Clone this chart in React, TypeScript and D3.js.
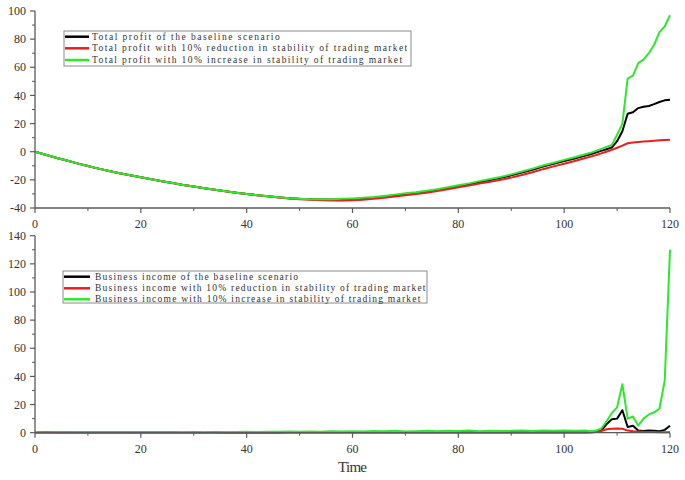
import React from 'react';
import * as d3 from 'd3';

const TIME = [0,2,4,6,8,10,12,14,16,18,20,22,24,26,28,30,32,34,36,38,40,42,44,46,48,50,52,54,56,58,60,62,64,66,68,70,72,74,76,78,80,82,84,86,88,90,92,94,96,98,100,102,104,105,106,107,108,109,110,111,112,113,114,115,116,117,118,119,120];

const PROFIT_BASE = [0,-2.2,-4.3,-6.3,-8.3,-10.2,-12.0,-13.7,-15.3,-16.8,-18.2,-19.6,-21.0,-22.3,-23.6,-24.8,-26.0,-27.1,-28.1,-29.1,-30.0,-30.9,-31.7,-32.4,-33.0,-33.5,-33.8,-34.0,-34.0,-33.9,-33.7,-33.3,-32.7,-31.9,-31.0,-30.1,-29.3,-28.4,-27.2,-25.9,-24.5,-23.2,-21.6,-20.1,-18.6,-16.8,-14.8,-12.8,-10.6,-8.6,-6.7,-4.8,-2.8,-1.8,-0.6,0.6,1.8,3.0,7.5,14.5,27.0,28.0,31.0,32.0,32.5,33.8,35.3,36.5,37.0];

const PROFIT_LOW = [0,-2.2,-4.3,-6.3,-8.3,-10.2,-12.0,-13.7,-15.3,-16.8,-18.2,-19.6,-21.0,-22.3,-23.6,-24.8,-26.0,-27.1,-28.1,-29.1,-30.0,-30.9,-31.7,-32.5,-33.2,-33.8,-34.2,-34.5,-34.6,-34.6,-34.5,-34.1,-33.5,-32.7,-31.8,-30.9,-30.0,-29.2,-28.0,-26.6,-25.3,-24.0,-22.6,-21.3,-20.0,-18.4,-16.6,-14.6,-12.4,-10.4,-8.6,-6.6,-4.5,-3.5,-2.4,-1.2,0.0,1.3,2.8,4.3,6.0,6.6,6.9,7.2,7.5,7.8,8.1,8.3,8.5];

const PROFIT_HIGH = [0,-2.2,-4.3,-6.3,-8.3,-10.2,-12.0,-13.7,-15.3,-16.8,-18.2,-19.6,-21.0,-22.3,-23.6,-24.8,-26.0,-27.1,-28.1,-29.1,-30.0,-30.9,-31.7,-32.4,-33.0,-33.4,-33.7,-33.8,-33.7,-33.5,-33.2,-32.8,-32.2,-31.4,-30.5,-29.6,-28.8,-27.8,-26.6,-25.3,-23.9,-22.5,-20.9,-19.4,-17.9,-16.1,-14.1,-12.0,-9.8,-7.8,-5.8,-3.9,-1.8,-0.8,0.6,2.0,3.4,4.8,12.0,20.0,52.0,54.0,63.0,65.5,70.0,76.0,85.0,89.0,97.0];

const INCOME_BASE = [0,0.1,0.1,0.1,0.2,0.2,0.2,0.2,0.2,0.2,0.2,0.2,0.2,0.2,0.2,0.2,0.2,0.2,0.2,0.2,0.2,0.2,0.2,0.2,0.3,0.3,0.3,0.3,0.3,0.3,0.3,0.3,0.3,0.3,0.3,0.3,0.3,0.3,0.3,0.3,0.3,0.3,0.3,0.3,0.3,0.3,0.3,0.3,0.3,0.3,0.3,0.3,0.3,0.3,0.5,1.5,6.0,9.5,10.0,16.0,4.0,5.0,1.5,1.2,1.5,1.3,1.0,2.0,5.0];

const INCOME_LOW = [0,0.1,0.1,0.1,0.1,0.1,0.1,0.1,0.1,0.1,0.1,0.1,0.1,0.1,0.1,0.1,0.1,0.1,0.1,0.1,0.2,0.2,0.2,0.2,0.2,0.2,0.2,0.2,0.2,0.2,0.2,0.2,0.2,0.2,0.2,0.2,0.2,0.2,0.2,0.2,0.2,0.2,0.2,0.2,0.2,0.2,0.2,0.2,0.2,0.2,0.2,0.2,0.2,0.3,0.5,1.2,2.5,2.8,3.0,2.8,1.5,1.0,0.8,0.6,0.5,0.5,0.4,0.4,0.3];

const INCOME_HIGH = [0,0.2,0.3,0.3,0.3,0.3,0.3,0.4,0.3,0.4,0.4,0.3,0.4,0.4,0.5,0.4,0.5,0.4,0.5,0.5,0.6,0.5,0.7,0.6,0.8,0.6,0.9,0.7,1.0,0.8,1.1,0.9,1.2,1.0,1.3,0.9,1.1,1.4,1.0,1.3,1.2,1.5,1.1,1.4,1.2,1.3,1.6,1.2,1.5,1.3,1.6,1.4,1.5,1.0,1.5,3.0,8.0,14.0,18.0,34.5,10.0,11.5,5.0,10.0,13.0,14.5,17.0,37.0,130.0];

const X_TICKS = [0, 20, 40, 60, 80, 100, 120];
const X_MINOR = [10, 30, 50, 70, 90, 110];
const PROFIT_TICKS = [-40, -20, 0, 20, 40, 60, 80, 100];
const PROFIT_MINOR = [-30, -10, 10, 30, 50, 70, 90];
const INCOME_TICKS = [0, 20, 40, 60, 80, 100, 120, 140];
const INCOME_MINOR = [10, 30, 50, 70, 90, 110, 130];

const PROFIT_LABELS = [
  'Total profit of the baseline scenario',
  'Total profit with 10% reduction in stability of trading market',
  'Total profit with 10% increase in stability of trading market',
];
const INCOME_LABELS = [
  'Business income of the baseline scenario',
  'Business income with 10% reduction in stability of trading market',
  'Business income with 10% increase in stability of trading market',
];
const COLORS = ['#000000', '#ee1c1c', '#2ee82e'];
const X_TITLE = 'Time';

const AXIS = '#5a5a5a';
const TICK_FONT = '"Liberation Serif", "Times New Roman", serif';

type PanelProps = {
  y: d3.ScaleLinear<number, number>;
  x: d3.ScaleLinear<number, number>;
  ticks: number[];
  minor: number[];
  series: number[][];
  labels: string[];
  legend: { x0: number; x1: number; y0: number; y1: number; rows: number[]; lx0: number; lx1: number; tx: number };
};

function Panel({ y, x, ticks, minor, series, labels, legend }: PanelProps) {
  const [y0, y1] = y.range();
  const [x0, x1] = x.range();
  const line = d3
    .line<number>()
    .x((_, i) => x(TIME[i]))
    .y((d) => y(d));
  return (
    <g>
      {series.map((s, i) => (
        <path key={i} d={line(s) || ''} fill="none" stroke={COLORS[i]} strokeWidth={2} strokeLinejoin="round" />
      ))}
      {/* y axis */}
      <line x1={x0} x2={x0} y1={y0} y2={y1} stroke={AXIS} strokeWidth={1.3} />
      {ticks.map((t) => (
        <g key={'yt' + t}>
          <line x1={x0 - 5} x2={x0} y1={y(t)} y2={y(t)} stroke={AXIS} strokeWidth={1.2} />
          <text x={x0 - 9} y={y(t)} dy="0.35em" textAnchor="end" fontFamily={TICK_FONT} fontSize={12} fill="#333">
            {t}
          </text>
        </g>
      ))}
      {minor.map((t) => (
        <line key={'ym' + t} x1={x0 - 3} x2={x0} y1={y(t)} y2={y(t)} stroke={AXIS} strokeWidth={1} />
      ))}
      {/* x axis */}
      <line x1={x0} x2={x1} y1={y0} y2={y0} stroke={AXIS} strokeWidth={1.3} />
      {X_TICKS.map((t) => (
        <g key={'xt' + t}>
          <line x1={x(t)} x2={x(t)} y1={y0} y2={y0 + 5} stroke={AXIS} strokeWidth={1.2} />
          <text x={x(t)} y={y0 + 20} textAnchor="middle" fontFamily={TICK_FONT} fontSize={12} fill="#333">
            {t}
          </text>
        </g>
      ))}
      {X_MINOR.map((t) => (
        <line key={'xm' + t} x1={x(t)} x2={x(t)} y1={y0} y2={y0 + 3} stroke={AXIS} strokeWidth={1} />
      ))}
      {/* legend */}
      <rect
        x={legend.x0}
        y={legend.y0}
        width={legend.x1 - legend.x0}
        height={legend.y1 - legend.y0}
        fill="#fff"
        stroke="#8a8a8a"
        strokeWidth={1}
      />
      {labels.map((l, i) => (
        <g key={'lg' + i}>
          <line x1={legend.lx0} x2={legend.lx1} y1={legend.rows[i]} y2={legend.rows[i]} stroke={COLORS[i]} strokeWidth={2.5} />
          <text
            x={legend.tx}
            y={legend.rows[i] + 3}
            fontFamily={TICK_FONT}
            fontSize={9.5}
            fill="#333"
            textLength={l.length * 5.1 - 1}
            lengthAdjust="spacing"
          >
            {l}
          </text>
        </g>
      ))}
    </g>
  );
}

export default function App() {
  const x = d3.scaleLinear().domain([0, 120]).range([35, 670]);
  const yTop = d3.scaleLinear().domain([-40, 100]).range([208, 11]);
  const yBot = d3.scaleLinear().domain([0, 140]).range([432.7, 235.7]);
  return (
    <svg width={685} height={480} style={{ position: 'absolute', left: 0, top: 0, background: '#fff' }}>
      <rect x={0} y={0} width={685} height={480} fill="#fff" />
      <Panel
        x={x}
        y={yTop}
        ticks={PROFIT_TICKS}
        minor={PROFIT_MINOR}
        series={[PROFIT_BASE, PROFIT_LOW, PROFIT_HIGH]}
        labels={PROFIT_LABELS}
        legend={{ x0: 64, x1: 411, y0: 31, y1: 66, rows: [36.7, 48.3, 60], lx0: 65, lx1: 89, tx: 92 }}
      />
      <Panel
        x={x}
        y={yBot}
        ticks={INCOME_TICKS}
        minor={INCOME_MINOR}
        series={[INCOME_BASE, INCOME_LOW, INCOME_HIGH]}
        labels={INCOME_LABELS}
        legend={{ x0: 63, x1: 427, y0: 271, y1: 303, rows: [276.7, 288.3, 299.3], lx0: 64, lx1: 90, tx: 95 }}
      />
      <text
        x={(x.range()[0] + x.range()[1]) / 2}
        y={472}
        textAnchor="middle"
        fontFamily={TICK_FONT}
        fontSize={15}
        fill="#333"
        textLength={29}
        lengthAdjust="spacing"
      >
        {X_TITLE}
      </text>
    </svg>
  );
}
